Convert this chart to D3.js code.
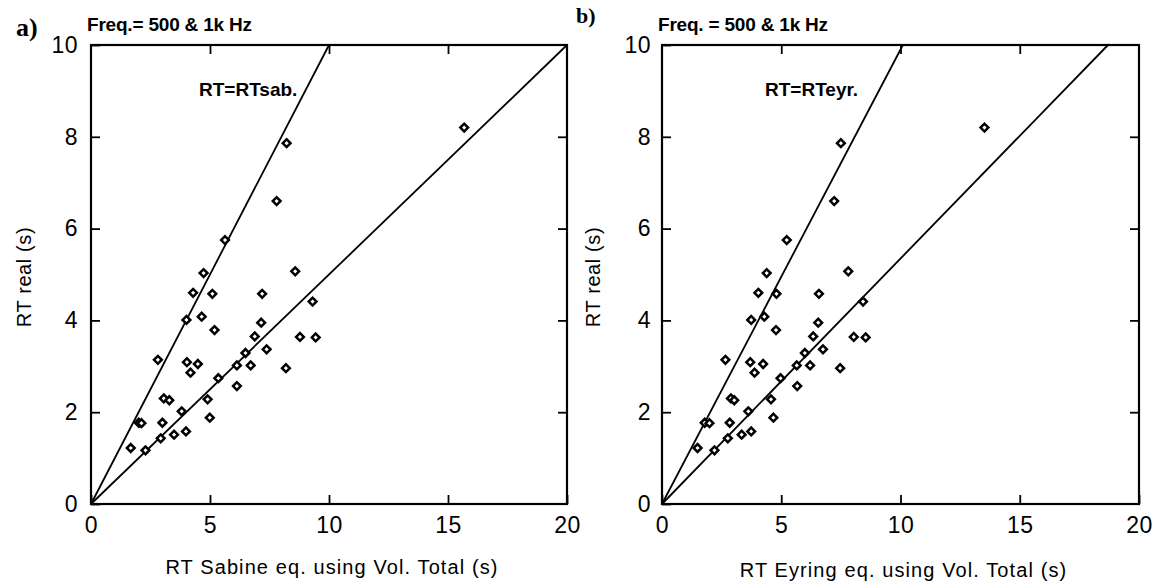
<!DOCTYPE html>
<html>
<head>
<meta charset="utf-8">
<script src="https://cdn.jsdelivr.net/npm/d3@7"></script>
<style>
  body { margin: 0; background: #fff; }
  svg { display: block; }
  text { font-family: "Liberation Sans", Arial, sans-serif; fill: #000; }
</style>
</head>
<body>
<svg id="chart" width="1154" height="581"></svg>
<script>
// measured reverberation time (s), same rooms in both panels
const rtReal = [8.20, 7.86, 6.60, 5.75, 5.03, 5.07, 4.60, 4.58, 4.58, 4.41,
                4.08, 4.01, 3.95, 3.79, 3.65, 3.64, 3.63, 3.37, 3.29, 3.14,
                3.09, 3.05, 3.02, 3.02, 2.96, 2.86, 2.74, 2.57, 2.30, 2.26,
                2.28, 2.02, 1.88, 1.77, 1.76, 1.77, 1.58, 1.51, 1.43, 1.22, 1.17];
// predicted with Sabine eq.
const rtSabine = [15.68, 8.22, 7.80, 5.63, 4.73, 8.58, 4.29, 5.10, 7.19, 9.31,
                  4.65, 4.01, 7.15, 5.19, 6.88, 8.78, 9.44, 7.38, 6.49, 2.81,
                  4.03, 4.49, 6.13, 6.71, 8.19, 4.18, 5.35, 6.13, 3.06, 3.29,
                  4.90, 3.81, 4.99, 2.01, 2.12, 3.00, 3.99, 3.49, 2.93, 1.67, 2.29];
// predicted with Eyring eq.
const rtEyring = [13.52, 7.50, 7.22, 5.23, 4.39, 7.81, 4.04, 4.80, 6.58, 8.43,
                  4.29, 3.74, 6.55, 4.78, 6.34, 8.04, 8.54, 6.75, 5.99, 2.66,
                  3.70, 4.24, 5.65, 6.21, 7.47, 3.88, 4.97, 5.67, 2.89, 3.03,
                  4.57, 3.62, 4.67, 1.79, 1.99, 2.84, 3.74, 3.34, 2.76, 1.49, 2.20];

// reference lines (x at which each reaches RT real = 10)
const linesSabine = [[[0, 0], [10, 10]], [[0, 0], [20, 10]]];
const linesEyring = [[[0, 0], [10.1, 10]], [[0, 0], [18.7, 10]]];

const xTicks = [0, 5, 10, 15, 20];
const yTicks = [0, 2, 4, 6, 8, 10];

const svg = d3.select('#chart');

function drawPanel(opts) {
    const left = opts.left, right = opts.right, top = 45, bottom = 504;

    const xScale = d3.scaleLinear().domain([0, 20]).range([left, right]);
    const yScale = d3.scaleLinear().domain([0, 10]).range([bottom, top]);

    const g = svg.append('g');

    // axes: ticks point inward, labels only on bottom and left
    const bottomAxis = g.append('g')
        .attr('transform', `translate(0, ${bottom})`)
        .call(d3.axisBottom(xScale).tickValues(xTicks).tickSize(-9).tickPadding(13));
    g.append('g')
        .attr('transform', `translate(${left}, 0)`)
        .call(d3.axisLeft(yScale).tickValues(yTicks).tickSize(-9).tickPadding(opts.yPad));
    g.append('g')
        .attr('transform', `translate(0, ${top})`)
        .call(d3.axisTop(xScale).tickValues(xTicks.slice(1, -1)).tickSize(-9).tickFormat(''));
    g.append('g')
        .attr('transform', `translate(${right}, 0)`)
        .call(d3.axisRight(yScale).tickValues(yTicks.slice(1, -1)).tickSize(-9).tickFormat(''));

    g.selectAll('.domain').remove();
    g.selectAll('.tick line').attr('stroke', '#000').attr('stroke-width', 1.8);
    g.selectAll('.tick text')
        .style('font-size', '23px')
        .style('letter-spacing', '0.5px')
        .style('font-family', '"Liberation Sans", Arial, sans-serif')
        .attr('fill', '#000');
    bottomAxis.selectAll('.tick text').attr('dy', '0.71em');

    // frame
    g.append('rect')
        .attr('x', left).attr('y', top)
        .attr('width', right - left).attr('height', bottom - top)
        .attr('fill', 'none').attr('stroke', '#000').attr('stroke-width', 2.2);

    // reference lines
    const line = d3.line().x(d => xScale(d[0])).y(d => yScale(d[1]));
    g.selectAll('.ref')
        .data(opts.lines)
        .enter()
        .append('path')
        .attr('d', line)
        .attr('fill', 'none')
        .attr('stroke', '#000')
        .attr('stroke-width', 1.8);

    // points: open diamonds
    const symbol = d3.symbol().type(d3.symbolSquare).size(30);
    g.selectAll('.pt')
        .data(opts.x.map((v, i) => ({ x: v, y: rtReal[i] })))
        .enter()
        .append('path')
        .attr('d', symbol)
        .attr('transform', d => `translate(${xScale(d.x)}, ${yScale(d.y)}) rotate(45)`)
        .attr('fill', '#fff')
        .attr('stroke', '#000')
        .attr('stroke-width', 2.5);

    // texts
    g.append('text')
        .attr('x', (left + right) / 2 + 3).attr('y', opts.titleY)
        .attr('text-anchor', 'middle')
        .style('font-size', '20px').style('letter-spacing', '1.1px')
        .text(opts.xTitle);

    g.append('text')
        .attr('transform', `translate(${opts.yTitleX}, 277) rotate(-90)`)
        .attr('text-anchor', 'middle')
        .style('font-size', '20px').style('letter-spacing', '0.6px')
        .text('RT  real (s)');

    g.append('text')
        .attr('x', left - 4).attr('y', 31)
        .style('font-size', '19px').style('font-weight', 'bold').style('letter-spacing', '-0.2px')
        .text(opts.freq);

    g.append('text')
        .attr('x', opts.labelX).attr('y', 96)
        .style('font-size', '19px').style('font-weight', 'bold')
        .text(opts.lineLabel);

    g.append('text')
        .attr('x', opts.panelX).attr('y', opts.panelY)
        .style('font-family', '"Liberation Serif", "Times New Roman", serif')
        .style('font-size', opts.panelSize)
        .style('font-weight', 'bold')
        .text(opts.panel);
}

drawPanel({
    left: 91, right: 567, yPad: 13,
    x: rtSabine, lines: linesSabine,
    xTitle: 'RT  Sabine  eq.  using  Vol.  Total  (s)', titleY: 574, yTitleX: 31,
    freq: 'Freq.= 500 & 1k Hz', lineLabel: 'RT=RTsab.', labelX: 199,
    panel: 'a)', panelX: 16, panelY: 36, panelSize: '26px'
});

drawPanel({
    left: 662, right: 1139, yPad: 11,
    x: rtEyring, lines: linesEyring,
    xTitle: 'RT  Eyring  eq.  using  Vol.  Total  (s)', titleY: 577, yTitleX: 600,
    freq: 'Freq. = 500 & 1k Hz', lineLabel: 'RT=RTeyr.', labelX: 765,
    panel: 'b)', panelX: 576, panelY: 23, panelSize: '22px'
});
</script>
</body>
</html>
